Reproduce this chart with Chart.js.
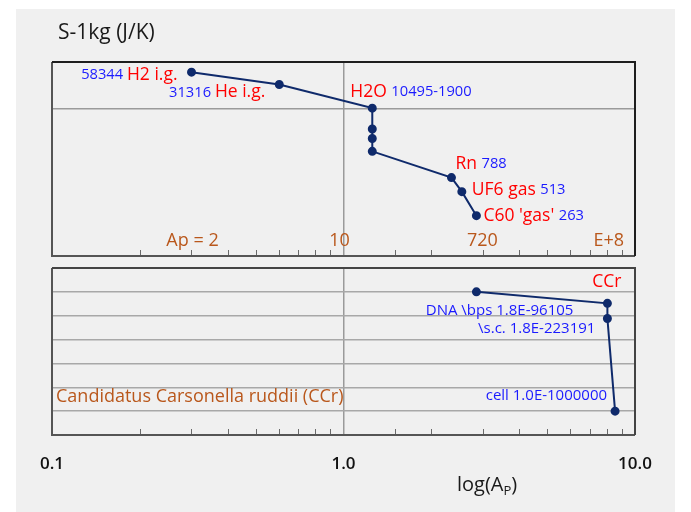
<!DOCTYPE html>
<html>
<head>
<meta charset="utf-8">
<script src="https://cdn.jsdelivr.net/npm/chart.js@4.4.1/dist/chart.umd.min.js"></script>
<style>
  body { margin: 0; background: #fff; }
  #bg { position: absolute; left: 16px; top: 9px; width: 659px; height: 503px; background: #f0f0f0; }
  canvas { position: absolute; left: 0; }
  #topChart { top: 0; }
  #bottomChart { top: 262px; }
</style>
</head>
<body>
<div id="bg"></div>
<canvas id="topChart" width="691" height="262"></canvas>
<canvas id="bottomChart" width="691" height="250"></canvas>
<script>
// Top panel: atomic mass Ap and entropy of 1 kg (J/K)
const apTop = [2, 4, 18, 18, 18, 18, 222, 352, 720];
const entropyTop = [58344, 31316, 10495, 4400, 3050, 1900, 788, 513, 263];
// Bottom panel: Ap and exponent (log10) of the probability
const apBottom = [720, 1.1e8, 1.1e8, 3.5e8];
const expBottom = [0, -96105, -223191, -1000000];

// Ap marks along the top panel's bottom edge
const apMarks = [2, 10, 720, 1e8];
const apMarkText = ['Ap = 2', '10', '720', 'E+8'];
const xTickValues = [0.1, 1, 10];

// label text for points: [blue, red] pieces
const topLabels = [
  { i: 0, parts: [['58344 ', 'b'], ['H2 i.g.', 'r']] },
  { i: 1, parts: [['31316 ', 'b'], ['He i.g.', 'r']] },
  { i: 2, parts: [['H2O ', 'r'], ['10495-1900', 'b']] },
  { i: 6, parts: [['Rn ', 'r'], ['788', 'b']] },
  { i: 7, parts: [['UF6 gas ', 'r'], ['513', 'b']] },
  { i: 8, parts: [["C60 'gas' ", 'r'], ['263', 'b']] }
];
const bottomLabels = [
  { i: 1, parts: [['CCr', 'r']] },
  { i: 1, parts: [['DNA \\bps 1.8E-96105', 'b2']] },
  { i: 2, parts: [['\\s.c. 1.8E-223191', 'b2']] },
  { i: 3, parts: [['cell 1.0E-1000000', 'b2']] }
];

// placement of the labels relative to their point (dx, dy, align)
const topLabelPos = [[-14, 3, 'right'], [-14, 8, 'right'], [-22, -16, 'left'], [4, -14, 'left'], [10, -2, 'left'], [7, 0, 'left']];
const bottomLabelPos = [[14, -21, 'right'], [-34, 7, 'right'], [-12, 10, 'right'], [-8, -15, 'right']];
const apMarkDx = [1, -4, 6, 2];

const FONT = '"Open Sans", sans-serif';
const pieceStyle = {
  r: { color: '#ff0000', font: '17.5px ' + FONT },
  b: { color: '#1a1aff', font: '14.7px ' + FONT },
  b2: { color: '#1a1aff', font: '15px ' + FONT }
};
const lineColor = '#0f2a6b';
const brown = '#b9571b';

function drawParts(ctx, parts, x, y, align) {
  ctx.textBaseline = 'middle';
  ctx.textAlign = 'left';
  let total = 0;
  parts.forEach(p => { ctx.font = pieceStyle[p[1]].font; total += ctx.measureText(p[0]).width; });
  let cx = align === 'right' ? x - total : x;
  parts.forEach(p => {
    ctx.font = pieceStyle[p[1]].font;
    ctx.fillStyle = pieceStyle[p[1]].color;
    ctx.fillText(p[0], cx, y);
    cx += ctx.measureText(p[0]).width;
  });
}

function frameAndTicks(chart, frameTop, frameSide) {
  const ctx = chart.ctx, a = chart.chartArea, xs = chart.scales.x;
  ctx.save();
  // minor tick marks along the bottom edge
  ctx.strokeStyle = '#6a6a6a';
  ctx.lineWidth = 1;
  xs.ticks.forEach(t => {
    if (xTickValues.includes(t.value)) return;
    const px = Math.round(xs.getPixelForValue(t.value)) + 0.5;
    ctx.beginPath();
    ctx.moveTo(px, a.bottom - 1);
    ctx.lineTo(px, a.bottom - 6);
    ctx.stroke();
  });
  ctx.lineWidth = 2;
  ctx.strokeStyle = frameSide;
  ctx.beginPath();
  ctx.moveTo(a.left, a.top); ctx.lineTo(a.left, a.bottom); ctx.lineTo(a.right, a.bottom);
  ctx.stroke();
  ctx.strokeStyle = frameTop;
  ctx.beginPath();
  ctx.moveTo(a.left, a.top); ctx.lineTo(a.right, a.top); ctx.lineTo(a.right, a.bottom);
  ctx.stroke();
  ctx.restore();
}

function fixedAxis(size, horizontal) {
  return horizontal ? (s => { s.height = size; }) : (s => { s.width = size; });
}

const xBase = {
  type: 'logarithmic', min: 0.1, max: 10,
  border: { display: false },
  grid: {
    drawTicks: false, lineWidth: 1.5,
    color: c => (c.tick && c.tick.value === 1 ? '#9a9a9a' : 'rgba(0,0,0,0)')
  }
};

const topPlugin = {
  id: 'topDecor',
  afterDraw(chart) {
    frameAndTicks(chart, '#1e1e1e', '#555');
    const ctx = chart.ctx, xs = chart.scales.x, ys = chart.scales.y, a = chart.chartArea;
    ctx.save();
    // title
    ctx.font = '21px ' + FONT;
    ctx.fillStyle = '#1a1a1a';
    ctx.textBaseline = 'middle';
    ctx.fillText('S-1kg (J/K)', 58, 33);
    // Ap marks
    ctx.font = '18px ' + FONT;
    ctx.fillStyle = brown;
    ctx.textAlign = 'center';
    apMarks.forEach((ap, k) => {
      ctx.fillText(apMarkText[k], xs.getPixelForValue(Math.log10(ap)) + apMarkDx[k], a.bottom - 15);
    });
    // point labels
    topLabels.forEach((l, k) => {
      const px = xs.getPixelForValue(Math.log10(apTop[l.i]));
      const py = ys.getPixelForValue(Math.log10(entropyTop[l.i]));
      const p = topLabelPos[k];
      drawParts(ctx, l.parts, px + p[0], py + p[1], p[2]);
    });
    ctx.restore();
  }
};

const bottomPlugin = {
  id: 'bottomDecor',
  afterDraw(chart) {
    frameAndTicks(chart, '#444', '#555');
    const ctx = chart.ctx, xs = chart.scales.x, ys = chart.scales.y, a = chart.chartArea;
    ctx.save();
    ctx.font = '18px ' + FONT;
    ctx.fillStyle = brown;
    ctx.textBaseline = 'middle';
    ctx.fillText('Candidatus Carsonella ruddii (CCr)', a.left + 4, 396.7 - 262);
    bottomLabels.forEach((l, k) => {
      const px = xs.getPixelForValue(Math.log10(apBottom[l.i]));
      const py = ys.getPixelForValue(expBottom[l.i]);
      const p = bottomLabelPos[k];
      drawParts(ctx, l.parts, px + p[0], py + p[1], p[2]);
    });
    // axis title log(A_P)
    ctx.fillStyle = '#1a1a1a';
    ctx.textBaseline = 'alphabetic';
    let x = 457, y = 491 - 262;
    ctx.font = '20px ' + FONT;
    ctx.fillText('log(A', x, y); x += ctx.measureText('log(A').width;
    ctx.font = '13px ' + FONT;
    ctx.fillText('P', x, y + 4); x += ctx.measureText('P').width;
    ctx.font = '20px ' + FONT;
    ctx.fillText(')', x, y);
    ctx.restore();
  }
};

const common = {
  responsive: false,
  animation: false,
  plugins: { legend: { display: false }, tooltip: { enabled: false } }
};

new Chart(document.getElementById('topChart'), {
  type: 'line',
  data: {
    datasets: [{
      data: apTop.map((ap, i) => ({ x: Math.log10(ap), y: Math.log10(entropyTop[i]) })),
      borderColor: lineColor, backgroundColor: lineColor,
      borderWidth: 2, pointRadius: 3.5, tension: 0
    }]
  },
  options: {
    ...common,
    layout: { padding: { left: 52, right: 56, top: 62, bottom: 4 } },
    scales: {
      x: { ...xBase, ticks: { display: false }, afterFit: fixedAxis(0, true) },
      y: {
        type: 'logarithmic', min: 2, max: 5,
        border: { display: false },
        ticks: { display: false },
        grid: {
          drawTicks: false, lineWidth: 1.5,
          color: c => (c.tick && c.tick.value === 4 ? '#9a9a9a' : 'rgba(0,0,0,0)')
        },
        afterFit: fixedAxis(0, false)
      }
    }
  },
  plugins: [topPlugin]
});

new Chart(document.getElementById('bottomChart'), {
  type: 'line',
  data: {
    datasets: [{
      data: apBottom.map((ap, i) => ({ x: Math.log10(ap), y: expBottom[i] })),
      borderColor: lineColor, backgroundColor: lineColor,
      borderWidth: 2, pointRadius: 3.5, tension: 0
    }]
  },
  options: {
    ...common,
    layout: { padding: { left: 52, right: 56, top: 4, bottom: 0 } },
    scales: {
      x: {
        ...xBase,
        ticks: {
          autoSkip: false, maxRotation: 0, padding: 19,
          color: '#111', font: { family: '"Open Sans"', size: 17, weight: '600' },
          callback: v => (xTickValues.includes(v) ? v.toFixed(1) : '')
        },
        afterFit: fixedAxis(77, true)
      },
      y: {
        min: -1200000, max: 200000,
        border: { display: false },
        ticks: { display: false, stepSize: 200000 },
        grid: {
          drawTicks: false, lineWidth: 1.5,
          color: c => (c.tick && c.tick.value > -1200000 && c.tick.value < 200000 ? '#a8a8a8' : 'rgba(0,0,0,0)')
        },
        afterFit: fixedAxis(0, false)
      }
    }
  },
  plugins: [bottomPlugin]
});
</script>
</body>
</html>
